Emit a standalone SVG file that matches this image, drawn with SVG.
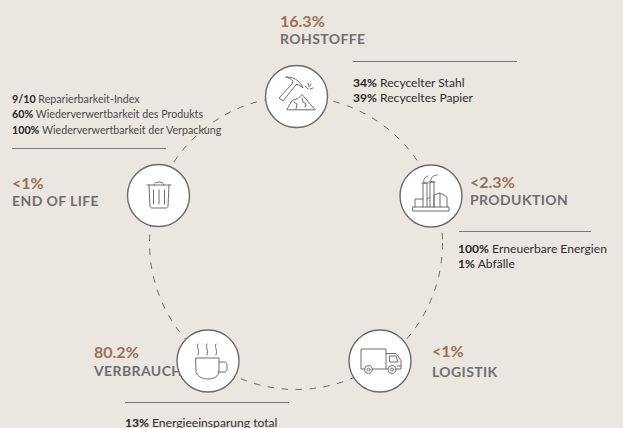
<svg xmlns="http://www.w3.org/2000/svg" width="623" height="428" viewBox="0 0 623 428">
<style>
text{font-family:"Lato","Liberation Sans",sans-serif}
.p{font-size:16px;font-weight:700;fill:#9a7158}
.h{font-size:14px;font-weight:700;fill:#6f6f71;letter-spacing:.4px}
.b{font-size:10.7px;fill:#4a4a4c}
.w{font-size:12.1px;fill:#2e2e30}
.b tspan,.w tspan{font-weight:700;fill:#262626}
.r{stroke:#77777a;stroke-width:1;fill:none}
.c{fill:#fff;stroke:#6a6a6c;stroke-width:1.4}
.i{fill:none;stroke:#6e6e70;stroke-width:1;stroke-linejoin:round;stroke-linecap:round}
</style>
<rect width="623" height="428" fill="#ebe6e0"/>
<g id="connectors">
<circle cx="296" cy="243" r="146.5" fill="none" stroke="#6a6a6c" stroke-width="1" stroke-dasharray="6.500 7.500"/>
</g>
<g id="rohstoffe">
<text class="p" x="280" y="27">16.3%</text>
<text class="h" x="280" y="44">ROHSTOFFE</text>
<line class="r" x1="353" y1="61.500" x2="517" y2="61.500"/>
<text class="w" x="353" y="86.500"><tspan>34%</tspan> Recycelter Stahl</text>
<text class="w" x="353" y="102"><tspan>39%</tspan> Recyceltes Papier</text>
<circle class="c" cx="296.500" cy="96.500" r="31"/>
<path class="i" d="M286 77c5 0 9 1 12 4 2 2 4 4 5 7-2-2-4-3-6-4l-2 2-12 15-4-3 13-14 1-3c-2-2-4-3-7-4z"/>
<path class="i" d="M287 109.500l5-9 6-2 4-4 6 7 7 8zM294 102l3 2-1 5M302 98l1 4 3 2-1 3"/>
<path class="i" d="M305 86l3 3M308 83l1 4M313 88l-3 1M311 84l-1 2"/>
</g>
<g id="produktion">
<circle class="c" cx="431" cy="196" r="31"/>
<path class="i" d="M413 207h36v4h-36zM415 207v-8h8M423 207v-24h4v24M430 207v-25h4v25M427 199l3-2M434 207v-12l6-2v14M440 193l7 4v10"/>
<path class="i" d="M422 183h6M429 182h6M424 183c-1-4 1-6 4-7M431 182c-1-4 2-7 6-7"/>
<text class="p" x="470" y="188">&lt;2.3%</text>
<text class="h" x="470" y="205">PRODUKTION</text>
<line class="r" x1="459" y1="231.500" x2="591" y2="231.500"/>
<text class="w" x="458" y="252.500"><tspan>100%</tspan> Erneuerbare Energien</text>
<text class="w" x="458" y="267.500"><tspan>1%</tspan> Abfälle</text>
</g>
<g id="logistik">
<circle class="c" cx="380" cy="361" r="31"/>
<path class="i" d="M364.500 369h-3.500v-20h25v20h-14M386 353.500h10l5 7v8.500h-5M386 369h2M390 356h6l2 6h-8zM397 366h4"/>
<circle class="i" cx="368.500" cy="369.500" r="4"/><circle class="i" cx="368.500" cy="369.500" r="1.500"/>
<circle class="i" cx="392" cy="369.500" r="4"/><circle class="i" cx="392" cy="369.500" r="1.500"/>
<text class="p" x="432" y="357">&lt;1%</text>
<text class="h" x="432" y="377">LOGISTIK</text>
</g>
<g id="verbrauch">
<text class="p" x="94" y="358">80.2%</text>
<text class="h" x="94" y="375.500">VERBRAUCH</text>
<circle class="c" cx="208" cy="361" r="31"/>
<path class="i" d="M196 358h23v13c0 5-5 8-11 8s-12-3-12-8zM219 362h5c2 0 3 1 3 3v4c0 2-1 3-3 3h-6M198 344c-2 3 2 6 0 11M207 344c-2 3 2 6 0 11M216 344c-2 3 2 6 0 11"/>
<line class="r" x1="125" y1="402.500" x2="289" y2="402.500"/>
<text class="w" x="125" y="426.500"><tspan>13%</tspan> Energieeinsparung total</text>
</g>
<g id="end-of-life">
<text class="b" x="12" y="103"><tspan>9/10</tspan> Reparierbarkeit-Index</text>
<text class="b" x="12" y="118"><tspan>60%</tspan> Wiederverwertbarkeit des Produkts</text>
<text class="b" x="12" y="133.500"><tspan>100%</tspan> Wiederverwertbarkeit der Verpackung</text>
<line class="r" x1="12" y1="148.500" x2="166" y2="148.500"/>
<text class="p" x="12" y="189">&lt;1%</text>
<text class="h" x="12" y="206">END OF LIFE</text>
<circle class="c" cx="158.500" cy="195.500" r="31"/>
<path class="i" d="M147 185h24M149 185l1 21c0 1 1 2 2 2h14c1 0 2-1 2-2l1-21M154 185c0-4 10-4 10 0M153.500 190v14M159 190v14M164.500 190v14"/>
</g>
</svg>
